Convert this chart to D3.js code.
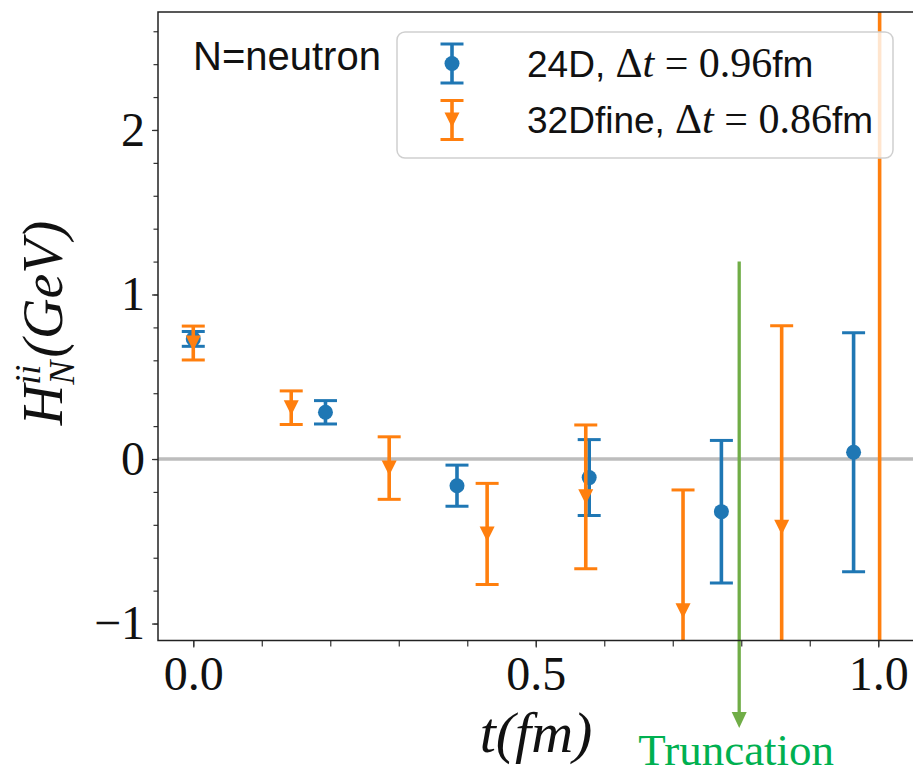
<!DOCTYPE html>
<html>
<head>
<meta charset="utf-8">
<script src="https://cdn.jsdelivr.net/npm/d3@7"></script>
<style>
  body { margin: 0; background: #fff; }
  figure { margin: 0; }
  svg { display: block; }
</style>
</head>
<body>
<figure id="chart"></figure>
<script>
// 24D, dt = 0.96 fm
const blueT = [0, 0.193, 0.385, 0.578, 0.771, 0.964];
const blueH = [0.73, 0.284, -0.162, -0.113, -0.32, 0.041];
const blueErr = [0.045, 0.071, 0.125, 0.231, 0.433, 0.726];

// 32Dfine, dt = 0.86 fm (last point is off the chart, only its bar shows)
const orangeT = [0, 0.143, 0.286, 0.429, 0.573, 0.715, 0.859, 1.002];
const orangeH = [0.705, 0.312, -0.055, -0.455, -0.23, -0.922, -0.415, -1.8];
const orangeErr = [0.103, 0.102, 0.19, 0.307, 0.437, 0.734, 1.225, 5.0];

const xTicks = [0.0, 0.5, 1.0];
const xTickLabels = ["0.0", "0.5", "1.0"];
const yTicks = [-1, 0, 1, 2];
const yTickLabels = ["\u22121", "0", "1", "2"];
const seriesNames = ["24D", "32Dfine"];
const seriesDt = ["0.96", "0.86"];
const truncationT = 0.797;
const truncationTop = 1.2;

const width = 913, height = 775;
const mLeft = 158, mTop = 12, mRight = 912.5, mBottom = 640.5;
const blue = "#1f77b4", orange = "#ff7f0e";
const serif = "'Liberation Serif', 'Times New Roman', serif";
const sans = "'Liberation Sans', Arial, sans-serif";

const svg = d3.select("#chart")
  .append("svg")
  .attr("width", width)
  .attr("height", height);

const x = d3.scaleLinear().domain([-0.0515, 1.05]).range([mLeft, mRight]);
const y = d3.scaleLinear().domain([-1.103, 2.717]).range([mBottom, mTop]);

svg.append("clipPath").attr("id", "plot")
  .append("rect")
  .attr("x", mLeft).attr("y", mTop)
  .attr("width", mRight - mLeft).attr("height", mBottom - mTop);

// zero line
svg.append("line")
  .attr("x1", mLeft).attr("x2", width)
  .attr("y1", y(0)).attr("y2", y(0))
  .attr("stroke", "#bdbdbd")
  .attr("stroke-width", 3.5);

// truncation arrow
const tx = x(truncationT);
svg.append("line")
  .attr("x1", tx).attr("x2", tx)
  .attr("y1", y(truncationTop)).attr("y2", 714)
  .attr("stroke", "#70ad47")
  .attr("stroke-width", 3.3);
svg.append("path")
  .attr("d", `M${tx - 7.5},712 L${tx + 7.5},712 L${tx},728 Z`)
  .attr("fill", "#70ad47");
svg.append("text")
  .attr("x", tx - 3).attr("y", 765)
  .attr("text-anchor", "middle")
  .style("font", `45px ${serif}`)
  .attr("fill", "#00b050")
  .text("Truncation");

// error bars
function drawSeries(ts, hs, errs, color, shape) {
  const data = ts.map((t, i) => ({ t: t, h: hs[i], e: errs[i] }));
  const g = svg.append("g").attr("clip-path", "url(#plot)");
  g.selectAll(".bar").data(data).enter()
    .append("line")
    .attr("x1", d => x(d.t)).attr("x2", d => x(d.t))
    .attr("y1", d => y(d.h - d.e)).attr("y2", d => y(d.h + d.e))
    .attr("stroke", color).attr("stroke-width", 3.6);
  g.selectAll(".cap").data(data.flatMap(d => [d.h - d.e, d.h + d.e].map(v => ({ t: d.t, v: v })))).enter()
    .append("line")
    .attr("x1", d => x(d.t) - 11.5).attr("x2", d => x(d.t) + 11.5)
    .attr("y1", d => y(d.v)).attr("y2", d => y(d.v))
    .attr("stroke", color).attr("stroke-width", 3);
  if (shape === "circle") {
    g.selectAll(".pt").data(data).enter()
      .append("circle")
      .attr("cx", d => x(d.t)).attr("cy", d => y(d.h))
      .attr("r", 7.5).attr("fill", color);
  } else {
    g.selectAll(".pt").data(data).enter()
      .append("path")
      .attr("d", d => `M${x(d.t) - 7.5},${y(d.h) - 7.5} L${x(d.t) + 7.5},${y(d.h) - 7.5} L${x(d.t)},${y(d.h) + 7.5} Z`)
      .attr("fill", color);
  }
}
drawSeries(blueT, blueH, blueErr, blue, "circle");
drawSeries(orangeT, orangeH, orangeErr, orange, "tri");

// axes: major + minor ticks
svg.append("g")
  .attr("transform", `translate(0,${mBottom})`)
  .call(d3.axisBottom(x).tickValues(xTicks).tickFormat((d, i) => xTickLabels[i]).tickSize(7).tickPadding(8));
svg.append("g")
  .attr("transform", `translate(0,${mBottom})`)
  .call(d3.axisBottom(x).tickValues(d3.range(0, 1.01, 0.1)).tickFormat("").tickSize(6));
svg.append("g")
  .attr("transform", `translate(${mLeft},0)`)
  .call(d3.axisLeft(y).tickValues(yTicks).tickFormat((d, i) => yTickLabels[i]).tickSize(6).tickPadding(7));
svg.append("g")
  .attr("transform", `translate(${mLeft},0)`)
  .call(d3.axisLeft(y).tickValues(d3.range(-1, 2.7, 0.2)).tickFormat("").tickSize(4.5));

svg.selectAll(".domain").remove();
svg.selectAll(".tick line").attr("stroke", "#333").attr("stroke-width", 1.2);
svg.selectAll(".tick text")
  .style("font", `48px ${serif}`)
  .attr("fill", "#111");

// spines (no right spine visible)
svg.append("path")
  .attr("d", `M${width},${mTop} L${mLeft},${mTop} L${mLeft},${mBottom} L${width},${mBottom}`)
  .attr("fill", "none")
  .attr("stroke", "#222")
  .attr("stroke-width", 1.5);

// axis labels
svg.append("text")
  .attr("x", 536).attr("y", 752)
  .attr("text-anchor", "middle")
  .style("font", `italic 58px ${serif}`)
  .attr("fill", "#111")
  .text("t(fm)");

const yl = svg.append("text")
  .attr("transform", "translate(62,323) rotate(-90)")
  .attr("text-anchor", "middle")
  .style("font", `italic 56px ${serif}`)
  .attr("fill", "#111");
yl.append("tspan").text("H");
yl.append("tspan").attr("dy", -22).style("font-size", "36px").text("ii");
yl.append("tspan").attr("dx", -20).attr("dy", 34).style("font-size", "36px").text("N");
yl.append("tspan").attr("dy", -12).attr("dx", 3).text("(GeV)");

// annotation
svg.append("text")
  .attr("x", 193).attr("y", 70)
  .style("font", `40px ${sans}`)
  .attr("fill", "#111")
  .text("N=neutron");

// legend
svg.append("rect")
  .attr("x", 397).attr("y", 32)
  .attr("width", 496).attr("height", 126)
  .attr("rx", 8)
  .attr("fill", "#fff").attr("fill-opacity", 0.8)
  .attr("stroke", "#cfcfcf").attr("stroke-width", 1.5);

const legendColors = [blue, orange];
const rows = svg.selectAll(".legend").data(seriesNames).enter()
  .append("g")
  .attr("transform", (d, i) => `translate(452,${63.5 + i * 56.5})`);
rows.append("line")
  .attr("y1", -19.5).attr("y2", 19.5)
  .attr("stroke", (d, i) => legendColors[i]).attr("stroke-width", 3.6);
rows.append("line")
  .attr("x1", -11.5).attr("x2", 11.5).attr("y1", -19.5).attr("y2", -19.5)
  .attr("stroke", (d, i) => legendColors[i]).attr("stroke-width", 3);
rows.append("line")
  .attr("x1", -11.5).attr("x2", 11.5).attr("y1", 19.5).attr("y2", 19.5)
  .attr("stroke", (d, i) => legendColors[i]).attr("stroke-width", 3);
rows.filter((d, i) => i === 0).append("circle")
  .attr("r", 7.5).attr("fill", blue);
rows.filter((d, i) => i === 1).append("path")
  .attr("d", "M-7.5,-7.5 L7.5,-7.5 L0,7.5 Z").attr("fill", orange);

const lt = rows.append("text")
  .attr("x", 75).attr("y", 13)
  .style("font", `37px ${sans}`)
  .attr("fill", "#111");
lt.append("tspan").text(d => d + ", ");
lt.append("tspan").style("font-family", serif).style("font-size", "42px").text("\u0394");
lt.append("tspan").style("font-family", serif).style("font-style", "italic").style("font-size", "42px").text("t");
lt.append("tspan").style("font-family", serif).style("font-size", "42px").text(" = ");
lt.append("tspan").style("font-family", serif).style("font-size", "42px").text((d, i) => seriesDt[i]);
lt.append("tspan").text("fm");
</script>
</body>
</html>
